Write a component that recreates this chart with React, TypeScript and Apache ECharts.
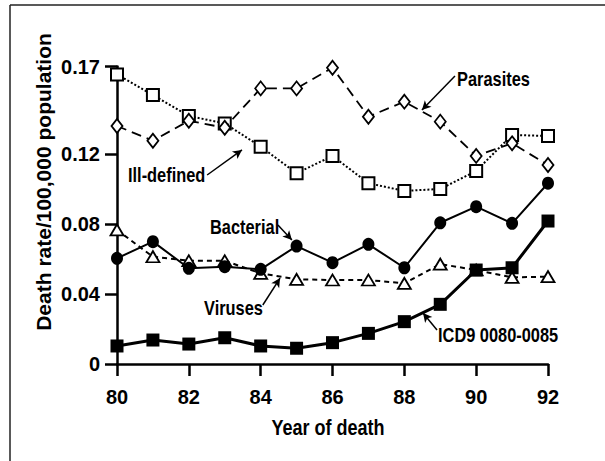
import React, { useEffect, useRef } from "react";
import * as echarts from "echarts";

const years = [80, 81, 82, 83, 84, 85, 86, 87, 88, 89, 90, 91, 92];
const illDefined = [0.1655, 0.1537, 0.1417, 0.1375, 0.1242, 0.109, 0.1189, 0.1033, 0.0989, 0.1, 0.1103, 0.1309, 0.1303];
const parasites = [0.136, 0.1276, 0.139, 0.135, 0.1575, 0.1575, 0.1693, 0.1413, 0.1499, 0.1385, 0.1189, 0.1261, 0.1137];
const bacterial = [0.0604, 0.0699, 0.0547, 0.0556, 0.0541, 0.0674, 0.0579, 0.0684, 0.055, 0.0807, 0.0899, 0.0804, 0.1033];
const viruses = [0.0766, 0.0613, 0.059, 0.059, 0.0518, 0.0484, 0.048, 0.048, 0.0461, 0.0571, 0.0537, 0.0495, 0.0499];
const icd9 = [0.0103, 0.0137, 0.0114, 0.015, 0.0103, 0.009, 0.0122, 0.0175, 0.0242, 0.0341, 0.0537, 0.055, 0.0817];
const yTicks = [0, 0.04, 0.08, 0.12, 0.17];

// annotation arrows in data coordinates: [x1, y1, x2, y2]
const arrowParasites = [89.41, 0.1646, 88.49, 0.1451];
const arrowIllDefined = [82.51, 0.108, 83.48, 0.1223];
const arrowBacterial = [84.48, 0.0794, 84.87, 0.0709];
const arrowViruses = [84.06, 0.0337, 84.54, 0.0491];
const arrowIcd9 = [88.91, 0.0194, 88.52, 0.0291];

const FONT = "'Liberation Sans', Arial, sans-serif";

function pairs(vals: number[]) {
  return years.map((y, i) => [y, vals[i]]);
}

function arrow(a: number[]) {
  return {
    silent: true,
    symbol: ["none", "arrow"],
    symbolSize: [7, 9],
    label: { show: false },
    lineStyle: { color: "#000", width: 1.5, type: "solid" },
    emphasis: { disabled: true },
    data: [[{ coord: [a[0], a[1]] }, { coord: [a[2], a[3]] }]],
  };
}

export default function App() {
  const ref = useRef<HTMLDivElement>(null);
  useEffect(() => {
    if (!ref.current) return;
    const chart = echarts.init(ref.current, null, { renderer: "svg" });
    const txt = (text: string, x: number, y: number, size = 20, align = "left") => ({
      type: "text",
      x,
      y,
      scaleX: 0.82,
      style: {
        text,
        fill: "#000",
        font: `bold ${size}px ${FONT}`,
        align,
        verticalAlign: "middle",
      },
    });
    chart.setOption({
      animation: false,
      backgroundColor: "#fff",
      grid: { left: 117, right: 57, top: 66.5, bottom: 97 },
      xAxis: {
        type: "value",
        min: 80,
        max: 92,
        interval: 2,
        axisLine: { lineStyle: { color: "#000", width: 2.5 } },
        axisTick: { length: 12, lineStyle: { color: "#000", width: 2.5 } },
        axisLabel: { margin: 23, fontFamily: FONT, fontWeight: "bold", fontSize: 20, color: "#000" },
        splitLine: { show: false },
      },
      yAxis: {
        type: "value",
        min: 0,
        max: 0.17,
        axisLine: { show: true, lineStyle: { color: "#000", width: 2.5 } },
        axisTick: { show: true, length: 12, customValues: yTicks, lineStyle: { color: "#000", width: 2.5 } },
        axisLabel: { margin: 17, customValues: yTicks, fontFamily: FONT, fontWeight: "bold", fontSize: 20, color: "#000" },
        splitLine: { show: false },
      },
      graphic: [
        { type: "line", shape: { x1: 10, y1: 5, x2: 605, y2: 5 }, style: { stroke: "#222", lineWidth: 1.5 } },
        { type: "line", shape: { x1: 10, y1: 5, x2: 10, y2: 461 }, style: { stroke: "#222", lineWidth: 1.5 } },
        {
          type: "text",
          x: 43,
          y: 182,
          rotation: Math.PI / 2,
          style: {
            text: "Death rate/100,000 population",
            fill: "#000",
            font: `bold 21px ${FONT}`,
            align: "center",
            verticalAlign: "middle",
          },
        },
        txt("Year of death", 328, 427, 22, "center"),
        txt("Parasites", 457, 79),
        txt("Ill-defined", 128, 175),
        txt("Bacterial", 210, 227),
        txt("Viruses", 204, 308),
        txt("ICD9 0080-0085", 438, 335),
      ],
      series: [
        {
          name: "Ill-defined",
          type: "line",
          data: pairs(illDefined),
          symbol: "rect",
          symbolSize: 12,
          itemStyle: { color: "#fff", borderColor: "#000", borderWidth: 2 },
          lineStyle: { color: "#000", width: 2, type: [2, 2] },
          markLine: arrow(arrowIllDefined),
          z: 3,
        },
        {
          name: "Parasites",
          type: "line",
          data: pairs(parasites),
          symbol: "diamond",
          symbolSize: [11, 14],
          itemStyle: { color: "#fff", borderColor: "#000", borderWidth: 1.8 },
          lineStyle: { color: "#000", width: 1.8, type: [10, 6] },
          markLine: arrow(arrowParasites),
          z: 4,
        },
        {
          name: "Bacterial",
          type: "line",
          data: pairs(bacterial),
          symbol: "circle",
          symbolSize: [12, 13],
          itemStyle: { color: "#000", borderColor: "#000", borderWidth: 0 },
          lineStyle: { color: "#000", width: 2 },
          markLine: arrow(arrowBacterial),
          z: 5,
        },
        {
          name: "Viruses",
          type: "line",
          data: pairs(viruses),
          symbol: "triangle",
          symbolSize: [13, 11],
          itemStyle: { color: "#fff", borderColor: "#000", borderWidth: 1.8 },
          lineStyle: { color: "#000", width: 2, type: [5, 4] },
          markLine: arrow(arrowViruses),
          z: 4,
        },
        {
          name: "ICD9 0080-0085",
          type: "line",
          data: pairs(icd9),
          symbol: "rect",
          symbolSize: 13,
          itemStyle: { color: "#000", borderColor: "#000", borderWidth: 0 },
          lineStyle: { color: "#000", width: 3 },
          markLine: arrow(arrowIcd9),
          z: 5,
        },
      ],
    });
    return () => chart.dispose();
  }, []);
  return (
    <div
      ref={ref}
      style={{ position: "absolute", left: 0, top: 0, width: 605, height: 461 }}
    />
  );
}
